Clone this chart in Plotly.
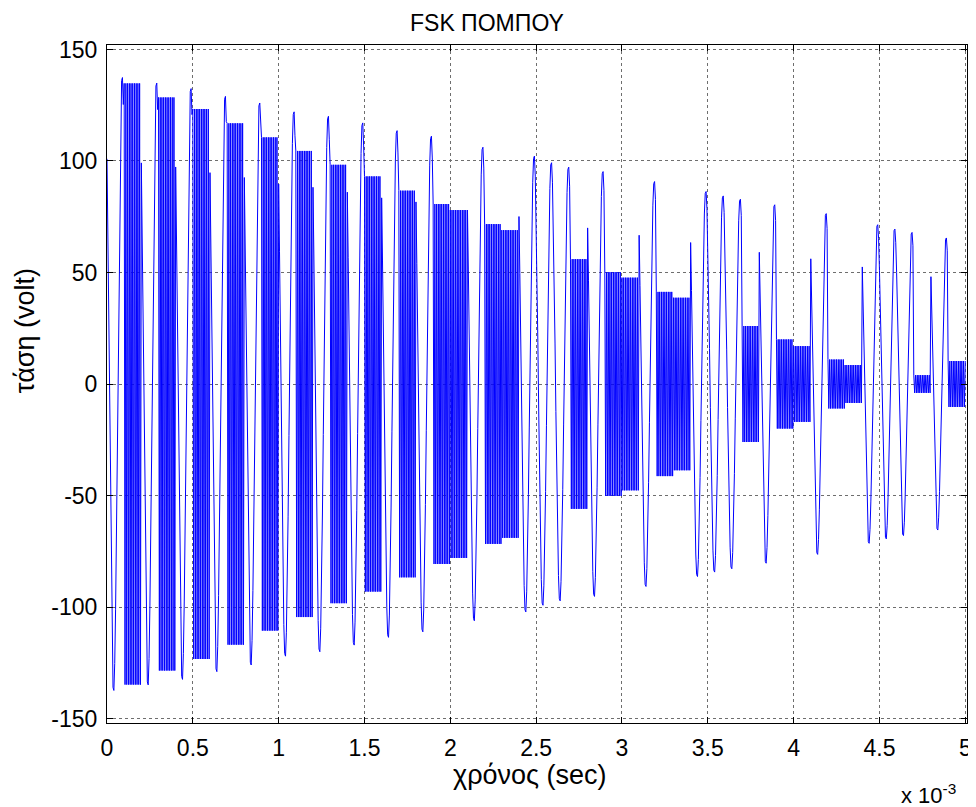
import numpy as np
import plotly.graph_objects as go

# ---- data ----
# 50 bits of 0.1 ms; 0 = low-frequency carrier, 1 = high-frequency carrier
bits = [0, 1, 0, 1, 0, 1, 0, 1, 0, 1,
        0, 1, 0, 1, 0, 1, 0, 1, 0, 1,
        1, 0, 1, 1, 0, 0, 0, 1, 0, 1,
        1, 0, 1, 1, 0, 0, 0, 1, 0, 1,
        1, 0, 1, 1, 0, 0, 0, 1, 0, 1]
# peak level (volt) of each bit
bit_levels = [138.5, 134.8, 136.0, 128.5, 133.5, 123.3, 130.0, 116.9, 127.0, 110.6,
              123.0, 104.5, 121.0, 98.3, 118.0, 93.1, 114.5, 86.7, 112.0, 80.7,
              78.0, 107.0, 71.7, 69.0, 103.0, 100.0, 98.0, 56.0, 96.0, 50.2,
              47.7, 91.5, 41.3, 38.7, 87.0, 85.0, 83.5, 26.0, 81.0, 20.0,
              17.0, 77.0, 11.0, 8.5, 72.0, 70.0, 68.5, 4.0, 66.0, 10.3]
bit_time = 1e-4          # s
samples_per_bit = 20
sample_time = bit_time / samples_per_bit
f_low = 1e4              # Hz
phase_delay = 0.088e-3   # s

xtick_vals = [0, 0.5e-3, 1e-3, 1.5e-3, 2e-3, 2.5e-3, 3e-3, 3.5e-3, 4e-3, 4.5e-3, 5e-3]
xtick_text = ['0', '0.5', '1', '1.5', '2', '2.5', '3', '3.5', '4', '4.5', '5']
ytick_vals = [-150, -100, -50, 0, 50, 100, 150]
ytick_text = ['-150', '-100', '-50', '0', '50', '100', '150']

# ---- build the sampled FSK waveform ----
n = np.arange(len(bits) * samples_per_bit + 1)
t = n * sample_time
b_idx = np.minimum(n // samples_per_bit, len(bits) - 1)
levels = np.array(bit_levels)[b_idx]
kind = np.array(bits)[b_idx]
slow = np.cos(2 * np.pi * f_low * (t - phase_delay))
fast = np.where(n % 2 == 0, 1.0, -1.0)
y = levels * np.where(kind == 1, fast, slow)

FONT = "Liberation Sans"
fig = go.Figure()
fig.add_trace(go.Scatter(x=t, y=y, mode='lines',
                         line=dict(color='#0000FF', width=1), hoverinfo='skip'))

axis_common = dict(showline=True, linecolor='black', linewidth=1, mirror='ticks',
                   ticks='inside', ticklen=6, tickcolor='black', tickwidth=1,
                   showgrid=True, gridcolor='#6e6e6e', gridwidth=1, griddash='dot',
                   zeroline=False, automargin=False,
                   tickfont=dict(family=FONT, size=23, color='black'))

# the page body adds an 8 px offset, so the figure is 8 px smaller than the window
fig.update_layout(
    width=968, height=799,
    margin=dict(l=99, r=9, t=37, b=84),
    paper_bgcolor='white', plot_bgcolor='white',
    showlegend=False,
    xaxis=dict(range=[0, 5.01e-3], tickvals=xtick_vals, ticktext=xtick_text,
               ticklabelstandoff=4, **axis_common),
    yaxis=dict(range=[-152, 152], tickvals=ytick_vals, ticktext=ytick_text,
               ticklabelstandoff=4, **axis_common),
    annotations=[
        dict(text='FSK ΠΟΜΠΟΥ', xref='paper', yref='paper', x=0.442, y=1.033,
             xanchor='center', yanchor='middle', showarrow=False,
             font=dict(family=FONT, size=23, color='black')),
        dict(text='χρόνος (sec)', xref='paper', yref='paper', x=0.492, y=-0.0767,
             xanchor='center', yanchor='middle', showarrow=False,
             font=dict(family=FONT, size=27, color='black')),
        dict(text='τάση (volt)', xref='paper', yref='paper', x=-0.0953, y=0.578,
             xanchor='center', yanchor='middle', showarrow=False, textangle=-90,
             font=dict(family=FONT, size=27, color='black')),
        dict(text='x 10<sup>-3</sup>', xref='paper', yref='paper', x=0.921, y=-0.104,
             xanchor='left', yanchor='middle', showarrow=False,
             font=dict(family=FONT, size=22, color='black')),
    ],
)

fig.write_html("out.html")
